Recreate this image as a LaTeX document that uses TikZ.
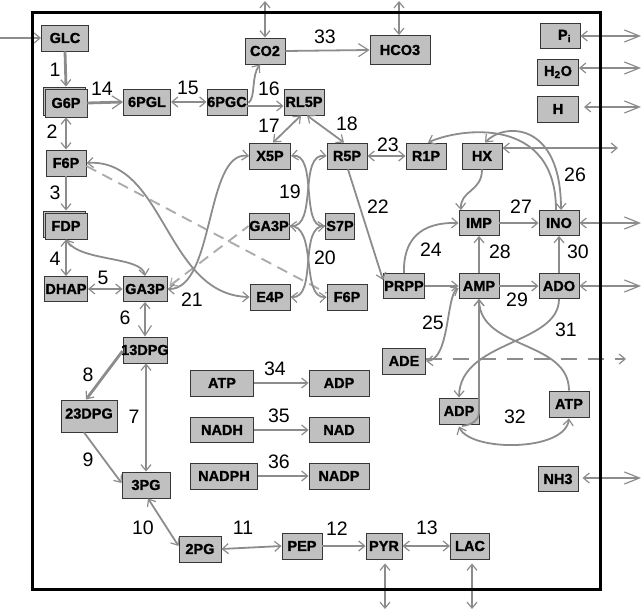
\documentclass[tikz,border=0pt]{standalone}
\usepackage{fontspec}
\setmainfont{Liberation Sans}
\newfontfamily\boxfont{Liberation Sans}[BoldFeatures={FakeBold=1.2}]
\usetikzlibrary{arrows.meta}
\definecolor{ln}{RGB}{140,140,140}
\definecolor{bx}{RGB}{192,192,192}
\definecolor{bd}{RGB}{55,55,55}
\definecolor{dl}{RGB}{172,172,172}
\begin{document}
\begin{tikzpicture}[x=1pt,y=-1pt,
  >={Straight Barb[length=6pt,width=10pt,line width=1.2pt]},
  BT/.tip={Straight Barb[length=15pt,width=12pt,line width=1.2pt]},
  MT/.tip={Straight Barb[length=10pt,width=13pt,line width=1.2pt]},
  met/.style={draw=bd, fill=bx, line width=0.9pt, inner sep=0pt,
    font=\boxfont\fontsize{14.5}{14.5}\selectfont\bfseries, minimum height=26pt},
  lab/.style={font=\fontsize{19.5}{19.5}\selectfont, inner sep=0pt},
  ed/.style={draw=ln, line width=1.8pt},
  thk/.style={draw=ln, line width=2.8pt},
  dsh/.style={draw=dl, line width=1.9pt, dash pattern=on 11pt off 7pt},
  dshb/.style={draw=ln, line width=1.9pt, dash pattern=on 16pt off 11pt}]
\useasboundingbox (0,0) rectangle (641,615);
% ---------- metabolite boxes
\node[met, minimum width=47pt] (GLC) at (65,38) {GLC};
\node[met, minimum width=42pt, minimum height=28pt] (G6Ps) at (64,101) {};
\node[met, minimum width=42pt, minimum height=28pt] (G6P) at (66,103) {G6P};
\node[met, minimum width=47pt] (PGL) at (147,102) {6PGL};
\node[met, minimum width=40pt] (PGC) at (227,102) {\makebox[0pt]{6PGC}};
\node[met, minimum width=40pt] (F6P) at (66,163) {F6P};
\node[met, minimum width=40pt] (CO2) at (265,51) {CO2};
\node[met, minimum width=60pt, minimum height=29pt] (HCO3) at (400,50) {HCO3};
\node[met, minimum width=40pt] (RL5P) at (304,102) {\makebox[0pt]{RL5P}};
\node[met, minimum width=41pt] (X5P) at (270,156) {X5P};
\node[met, minimum width=40pt] (R5P) at (347,156) {R5P};
\node[met, minimum width=40pt] (R1P) at (426,156) {R1P};
\node[met, minimum width=40pt] (HX) at (482,156) {HX};
\node[met, minimum width=40pt, minimum height=25pt] (Pi) at (560,36) {\hspace{9pt}P\textsubscript{i}};
\node[met, minimum width=41pt] (H2O) at (558,72) {H\textsubscript{2}O};
\node[met, minimum width=41pt] (H) at (558,109) {H};
\node[met, minimum width=42pt] (FDPs) at (64,224) {};
\node[met, minimum width=42pt] (FDP) at (66,226) {FDP};
\node[met, minimum width=43pt, minimum height=25pt] (DHAP) at (66,289) {\makebox[0pt]{DHAP}};
\node[met, minimum width=44pt, minimum height=25pt] (GAa) at (145,289) {\makebox[0pt]{GA3P}};
\node[met, minimum width=44pt] (DPGa) at (145,350) {\makebox[0pt]{13DPG}};
\node[met, minimum width=56pt, minimum height=32pt] (DPGb) at (89,416) {\raisebox{5pt}{\makebox[0pt]{23DPG}}};
\node[met, minimum width=48pt] (PG3) at (146,485) {3PG};
\node[met, minimum width=42pt] (PG2) at (200,549) {2PG};
\node[met, minimum width=40pt] (PEP) at (302,546) {PEP};
\node[met, minimum width=36pt] (PYR) at (384,546) {\makebox[0pt]{PYR}};
\node[met, minimum width=39pt] (LAC) at (470,546) {LAC};
\node[met, minimum width=40pt, minimum height=25pt] (NH3) at (558,479) {NH3};
\node[met, minimum width=63pt] (ATPm) at (222,383) {ATP};
\node[met, minimum width=60pt] (ADPm) at (339,383) {ADP};
\node[met, minimum width=63pt, minimum height=25pt] (NADH) at (222,430) {NADH};
\node[met, minimum width=60pt, minimum height=25pt] (NAD) at (339,430) {NAD};
\node[met, minimum width=67pt] (NADPH) at (224,476) {NADPH};
\node[met, minimum width=60pt] (NADP) at (339,476) {NADP};
\node[met, minimum width=40pt] (GAb) at (269,226) {\makebox[0pt]{GA3P}};
\node[met, minimum width=29pt] (S7P) at (340,226) {\makebox[0pt]{S7P}};
\node[met, minimum width=40pt] (E4P) at (270,297) {E4P};
\node[met, minimum width=40pt] (F6Pb) at (347,297) {F6P};
\node[met, minimum width=41pt, minimum height=25pt] (PRPP) at (404,286) {\makebox[0pt]{PRPP}};
\node[met, minimum width=43pt] (ADE) at (404,361) {ADE};
\node[met, minimum width=40pt, minimum height=25pt] (IMP) at (479,223) {IMP};
\node[met, minimum width=40pt, minimum height=25pt] (INO) at (559,223) {INO};
\node[met, minimum width=40pt, minimum height=25pt] (AMP) at (479,286) {AMP};
\node[met, minimum width=40pt, minimum height=25pt] (ADO) at (559,286) {ADO};
\node[met, minimum width=40pt] (ADPr) at (459,411) {ADP};
\node[met, minimum width=40pt] (ATPr) at (569,404) {ATP};
% ---------- free ends
\coordinate (eGLC) at (0,38);
\coordinate (eCO2) at (265,1);
\coordinate (eHCO3) at (399,1);
\coordinate (ePYR) at (385,609);
\coordinate (eLAC) at (472,609);
\coordinate (ePi) at (641,36);
\coordinate (eH2O) at (641,68);
\coordinate (eH) at (641,107);
\coordinate (eHX) at (618,148);
\coordinate (eINO) at (641,223);
\coordinate (eADO) at (641,286);
\coordinate (eADE) at (626,359);
\coordinate (eNH3) at (641,478);
\coordinate (kAMP) at (479,412);
% ---------- connectors
\draw[ed,->] (eGLC) -- (GLC.west);
\draw[thk,->] (GLC.south) -- (G6Ps.north -| G6P.north);
\draw[thk,-MT] (G6P.east) -- (PGL.west);
\draw[ed,<->] (PGL.east) -- (PGC.west);
\draw[ed,->] ([xshift=1pt,yshift=-1pt]PGC.east) .. controls (256,97) and (251,76) .. ([xshift=-5pt]CO2.south);
\draw[thk,->] ([yshift=-4pt]PGC.east) -- ([yshift=-4pt]RL5P.west);
\draw[ed,<->] (eCO2) -- (CO2.north);
\draw[ed,<->] (eHCO3) -- ([xshift=-1pt]HCO3.north);
\draw[ed,-MT] (CO2.east) -- (HCO3.west);
\draw[ed,<->] ([xshift=-3pt]RL5P.south) -- ([xshift=3pt]X5P.north);
\draw[ed,<->] ([xshift=3pt]RL5P.south) -- ([xshift=-3pt]R5P.north);
\draw[ed,<->] (R5P.east) -- (R1P.west);
\draw[thk,<->] (G6P.south) -- (F6P.north);
\draw[ed,->] (F6P.south) -- (FDPs.north -| FDP.north);
\draw[thk,<->] (FDP.south) -- (DHAP.north);
\draw[ed,<->] (FDP.south) .. controls (80,262) and (142,256) .. (GAa.north);
\draw[ed,<->] (DHAP.east) -- (GAa.west);
\draw[ed,<-MT] (GAa.south) -- (DPGa.north);
\draw[ed,<->] ([xshift=1pt]DPGa.south) -- (PG3.north);
\draw[thk,->] ([yshift=-1pt]DPGa.west) -- ([xshift=-3pt]DPGb.north);
\draw[ed,->] ([xshift=-5pt]DPGb.south) -- ([yshift=2pt]PG3.west);
\draw[ed,<->] ([xshift=2pt]PG3.south) -- ([yshift=3pt]PG2.west);
\draw[ed,<->] (PG2.east) -- (PEP.west);
\draw[ed,->] (PEP.east) -- (PYR.west);
\draw[ed,<->] (PYR.east) -- (LAC.west);
\draw[ed,<->, shorten <=4pt] ([xshift=1pt]PYR.south) -- (ePYR);
\draw[ed,<->, shorten <=4pt] ([xshift=2pt]LAC.south) -- (eLAC);
\draw[ed,->] (ATPm.east) -- (ADPm.west);
\draw[ed,->] (NADH.east) -- (NAD.west);
\draw[ed,->] (NADPH.east) -- (NADP.west);
% pentose phosphate exchanges
\draw[dsh] ([yshift=-3pt]F6P.east) -- ([yshift=4pt]F6Pb.west);
\draw[dsh,<-] ([shift={(2pt,3pt)}]GAa.east) -- (GAb.west);
\draw[ed,<->] (X5P.west) .. controls (205,150) and (215,290) .. (GAa.east);
\draw[ed,<->] (F6P.east) .. controls (165,158) and (165,295) .. (E4P.west);
\draw[ed,<->] (X5P.east) .. controls (318,152) and (300,228) .. (S7P.west);
\draw[ed,<->] (R5P.west) .. controls (298,152) and (318,228) .. (GAb.east);
\draw[ed,->] (GAb.east) .. controls (318,224) and (300,299) .. (F6Pb.west);
\draw[ed,->] (S7P.west) .. controls (298,224) and (318,299) .. (E4P.east);
% purine part
\draw[ed,->] ([xshift=1pt]R5P.south) -- ([yshift=6pt]PRPP.west);
\draw[ed,->] (PRPP.north) .. controls (403,240) and (420,222) .. (IMP.west);
\draw[ed,->] (PRPP.east) -- (AMP.west);
\draw[ed,<->] (ADE.east) .. controls (450,360) and (446,295) .. ([yshift=-2pt]AMP.west);
\draw[ed,->] (HX.south) .. controls (482,192) and (460,190) .. ([xshift=-18pt]IMP.north);
\draw[ed,->] (AMP.north) -- (IMP.south);
\draw[ed,->] (IMP.east) -- (INO.west);
\draw[ed,->] (AMP.east) -- (ADO.west);
\draw[ed,->] (ADO.north) -- (INO.north |- INO.south);
\draw[ed,<-] ([xshift=2pt]R1P.north) .. controls (460,128) and (556,115) .. ([xshift=-3pt]INO.north);
\draw[ed,<->] ([xshift=3pt]HX.north) .. controls (505,122) and (561,122) .. ([xshift=2pt]INO.north);
\draw[ed,->] (ADO.south) .. controls (559,345) and (460,340) .. (ADPr.north);
\draw[ed,->] (ATPr.north) .. controls (569,340) and (480,350) .. (AMP.south);
\draw[ed,<->] ([yshift=-2pt]ADPr.south) .. controls (470,452) and (565,452) .. ([yshift=-1pt]ATPr.south);
\draw[ed,->] (kAMP) -- (AMP.south);
\draw[ed] (kAMP) .. controls (479,420) and (472,425) .. (462,426);
% exchanges with outside
\draw[ed,<-BT] (Pi.east) -- (ePi);
\draw[ed,<-BT] ([yshift=4pt]H2O.east) -- (eH2O);
\draw[ed,<-BT, shorten <=5pt] ([yshift=2pt]H.east) -- (eH);
\draw[ed,<->] ([yshift=8pt]HX.east) -- (eHX);
\draw[ed,<-BT] (INO.east) -- (eINO);
\draw[ed,<-BT] (ADO.east) -- (eADO);
\draw[ed,<-BT, shorten <=4pt] ([yshift=1pt]NH3.east) -- (eNH3);
\draw[dshb,->] ([yshift=2pt]ADE.east) -- (eADE);
% ---------- cell border
\draw[line width=3pt] (32,13) rectangle (600,589);
% ---------- reaction numbers
\node[lab] (n1) at (55,70) {1};
\node[lab] (n2) at (52,132) {2};
\node[lab] (n3) at (55,193) {3};
\node[lab] (n4) at (55,259) {4};
\node[lab] (n5) at (103,278) {5};
\node[lab] (n6) at (125,318) {6};
\node[lab] (n7) at (134,417) {7};
\node[lab] (n8) at (88,375) {8};
\node[lab] (n9) at (88,460) {9};
\node[lab] (n10) at (143,528) {10};
\node[lab] (n11) at (243,528) {11};
\node[lab] (n12) at (337,529) {12};
\node[lab] (n13) at (427,528) {13};
\node[lab] (n14) at (102,89) {14};
\node[lab] (n15) at (188,88) {15};
\node[lab] (n16) at (269,89) {16};
\node[lab] (n17) at (269,126) {17};
\node[lab] (n18) at (347,124) {18};
\node[lab] (n19) at (290,192) {19};
\node[lab] (n20) at (325,258) {20};
\node[lab] (n21) at (192,300) {21};
\node[lab] (n22) at (378,207) {22};
\node[lab] (n23) at (388,145) {23};
\node[lab] (n24) at (431,250) {24};
\node[lab] (n25) at (433,323) {25};
\node[lab] (n26) at (575,175) {26};
\node[lab] (n27) at (521,207) {27};
\node[lab] (n28) at (500,252) {28};
\node[lab] (n29) at (517,300) {29};
\node[lab] (n30) at (578,252) {30};
\node[lab] (n31) at (566,330) {31};
\node[lab] (n32) at (515,417) {32};
\node[lab] (n33) at (325,37) {33};
\node[lab] (n34) at (275,369) {34};
\node[lab] (n35) at (279,416) {35};
\node[lab] (n36) at (279,462) {36};
\end{tikzpicture}
\end{document}
